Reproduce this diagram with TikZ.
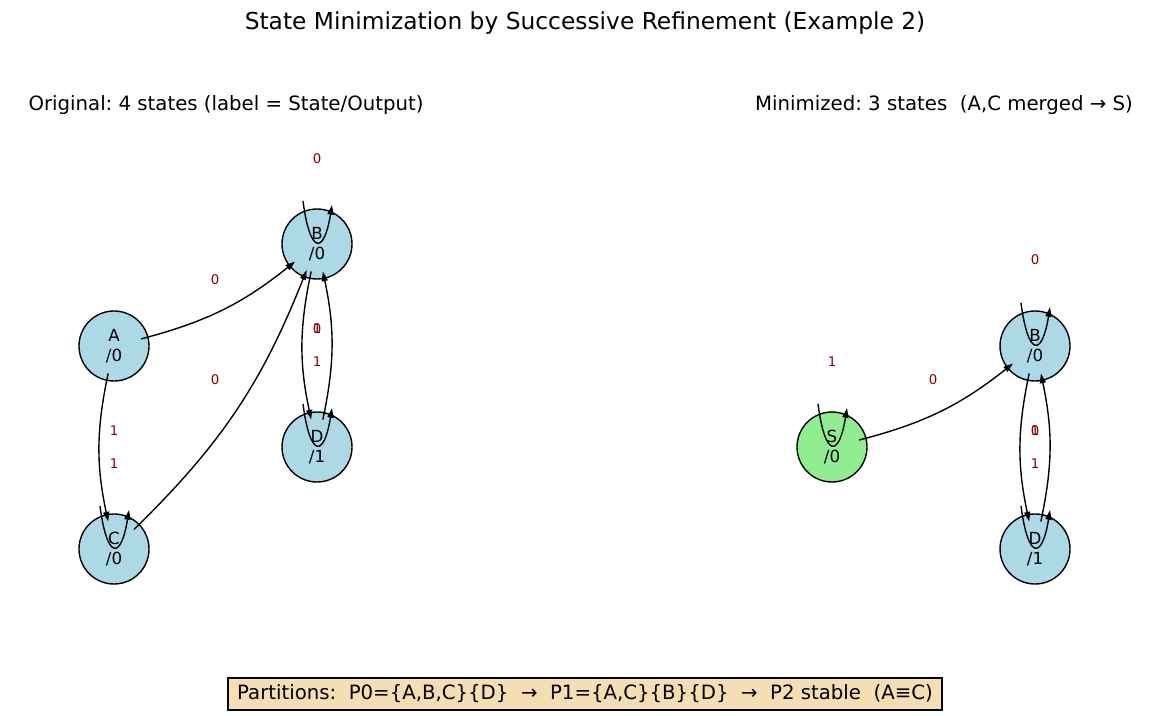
\documentclass[tikz,border=0pt]{standalone}
\usepackage{fontspec}
\setmainfont{DejaVu Sans}
\usetikzlibrary{arrows.meta,calc}
\definecolor{nodeblue}{HTML}{ADD8E6}
\definecolor{nodegreen}{HTML}{90EE90}
\definecolor{lblred}{HTML}{8B0000}
\definecolor{wheatc}{HTML}{F5DEB3}
\frenchspacing
\begin{document}
\begin{tikzpicture}[x=0.72pt,y=-0.72pt,
  state/.style={circle,draw=black,line width=1pt,minimum size=50.4pt,inner sep=0pt,outer sep=-5pt,
    font=\fontsize{12}{14.4}\selectfont,align=center},
  edge/.style={draw=black,line width=1pt,-{Triangle[length=7pt,width=4.4pt]}},
  elbl/.style={text=lblred,font=\fontsize{9.6}{11}\selectfont,inner sep=0pt},
  ttl/.style={font=\fontsize{16.8}{20}\selectfont,inner sep=0pt},
  sub/.style={font=\fontsize{14.2}{17}\selectfont,inner sep=0pt},
]
\useasboundingbox (0,0) rectangle (1170,716);

% titles
\node[ttl] (title) at (585,23) {State Minimization by Successive Refinement (Example 2)};
\node[sub] (subL) at (226,105) {Original: 4 states (label = State/Output)};
\node[sub] (subR) at (944,105) {Minimized: 3 states\ \ (A,C merged → S)};

% left machine
\node[state,fill=nodeblue] (A) at (114,346) {A\\/0};
\node[state,fill=nodeblue] (B) at (317,244) {B\\/0};
\node[state,fill=nodeblue] (C) at (114,549) {C\\/0};
\node[state,fill=nodeblue] (D) at (317,447) {D\\/1};

\draw[edge] (A) to[bend right=12] (B);
\draw[edge] (A) to[bend right=12] (C);
\draw[edge] (C) to[bend right=12] (B);
\draw[edge] (B) to[bend right=12] (D);
\draw[edge] (D) to[bend right=12] (B);
\foreach \n in {B,C,D}{
  \draw[edge] ($(\n.center)+(-14,-43)$) .. controls ($(\n.center)+(-7,11)$) and ($(\n.center)+(7,11)$) .. ($(\n.center)+(15,-39)$);
}

\node[elbl] (lAB) at (215,280) {0};
\node[elbl] (lCB) at (215,380) {0};
\node[elbl] (lBB) at (317,159) {0};
\node[elbl] (lAC) at (114,431) {1};
\node[elbl] (lCC) at (114,464) {1};
\node[elbl] (lDB) at (317,329) {0};
\node[elbl] (lBD) at (317,329) {1};
\node[elbl] (lDD) at (317,362) {1};

% right machine
\node[state,fill=nodegreen] (S) at (832,447) {S\\/0};
\node[state,fill=nodeblue] (B2) at (1035,346) {B\\/0};
\node[state,fill=nodeblue] (D2) at (1035,549) {D\\/1};

\draw[edge] (S) to[bend right=12] (B2);
\draw[edge] (B2) to[bend right=12] (D2);
\draw[edge] (D2) to[bend right=12] (B2);
\foreach \n in {S,B2,D2}{
  \draw[edge] ($(\n.center)+(-14,-43)$) .. controls ($(\n.center)+(-7,11)$) and ($(\n.center)+(7,11)$) .. ($(\n.center)+(15,-39)$);
}

\node[elbl] (rSS) at (832,362) {1};
\node[elbl] (rSB) at (933,380) {0};
\node[elbl] (rBB) at (1035,260) {0};
\node[elbl] (rDB) at (1035,431) {0};
\node[elbl] (rBD) at (1035,431) {1};
\node[elbl] (rDD) at (1035,464) {1};

% partitions box
\node[draw=black,line width=1pt,fill=wheatc,font=\fontsize{14.2}{17}\selectfont,
  minimum width=514pt,minimum height=23pt,inner sep=0pt] (box) at (585,694)
  {Partitions:\ \ P0=\{A,B,C\}\{D\}\ \ →\ \ P1=\{A,C\}\{B\}\{D\}\ \ →\ \ P2 stable\ \ (A≡C)};
\end{tikzpicture}
\end{document}
